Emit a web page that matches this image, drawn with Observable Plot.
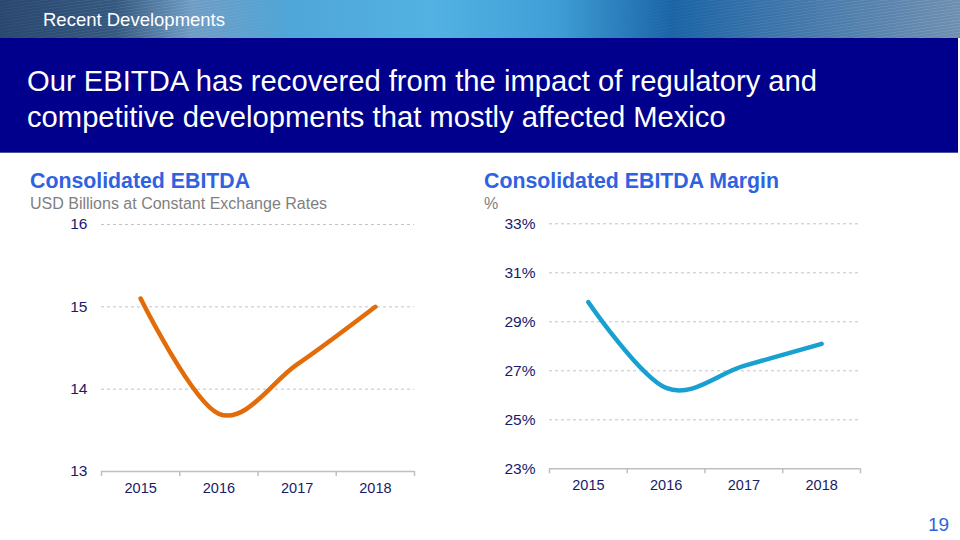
<!DOCTYPE html>
<html>
<head>
<meta charset="utf-8">
<script src="https://cdn.jsdelivr.net/npm/d3@7"></script>
<script src="https://cdn.jsdelivr.net/npm/@observablehq/plot@0.6"></script>
<style>
  html, body { margin: 0; padding: 0; }
  body { width: 960px; height: 540px; position: relative; overflow: hidden; background: #fff;
         font-family: "Liberation Sans", Arial, sans-serif; }
  .abs { position: absolute; white-space: nowrap; }
  #banner { left: 0; top: 0; width: 960px; height: 38px;
    background: linear-gradient(90deg, #2a4770 0%, #34587f 12%, #6f9cc4 20%, #4fa6d8 30%, #53b2e2 45%, #3f9ed6 58%, #1a64a6 70%, #3a73aa 80%, #6f8fb0 100%); }
  #streaks { left: 0; top: 0; width: 960px; height: 38px;
    background: repeating-linear-gradient(172deg, rgba(255,255,255,0.10) 0 1px, rgba(255,255,255,0) 1px 3px);
    -webkit-mask-image: linear-gradient(90deg, rgba(0,0,0,0.3) 0%, rgba(0,0,0,0.9) 18%, rgba(0,0,0,0.05) 30%, rgba(0,0,0,0) 60%, rgba(0,0,0,0.6) 80%, rgba(0,0,0,1) 100%);
    mask-image: linear-gradient(90deg, rgba(0,0,0,0.3) 0%, rgba(0,0,0,0.9) 18%, rgba(0,0,0,0.05) 30%, rgba(0,0,0,0) 60%, rgba(0,0,0,0.6) 80%, rgba(0,0,0,1) 100%); }
  #section { left: 43px; top: 10.6px; font-size: 18.5px; line-height: 18.5px; color: #fff; }
  #box { left: 0; top: 38px; width: 958px; height: 114px; background: #00008c; border-bottom: 1px solid #4a52a0; }
  #headline { left: 27px; top: 62.7px; font-size: 29.2px; line-height: 36px; color: #fff; }
  .ctitle { font-size: 21.3px; line-height: 21px; font-weight: bold; color: #2f62e0; top: 171px; }
  .csub { font-size: 16px; line-height: 16px; color: #808080; top: 195.5px; }
  #page { left: 928px; top: 515px; font-size: 19px; line-height: 19px; color: #2f62e0; }
  #leftChart { left: 0; top: 200px; }
  #rightChart { left: 460px; top: 200px; }
</style>
</head>
<body>
<div id="banner" class="abs"></div>
<div id="streaks" class="abs"></div>
<div id="section" class="abs">Recent Developments</div>
<div id="box" class="abs"></div>
<div id="headline" class="abs">Our EBITDA has recovered from the impact of regulatory and<br>competitive developments that mostly affected Mexico</div>
<div id="leftChart" class="abs"></div>
<div id="rightChart" class="abs"></div>
<div class="abs ctitle" style="left:30px">Consolidated EBITDA</div>
<div class="abs csub" style="left:30px">USD Billions at Constant Exchange Rates</div>
<div class="abs ctitle" style="left:484px">Consolidated EBITDA Margin</div>
<div class="abs csub" style="left:484px">%</div>
<div id="page" class="abs">19</div>
<script>
// ---- data ----
const years = [2015, 2016, 2017, 2018];
const ebitda = [15.1, 13.7, 14.3, 15.0];          // USD billions
const margin = [29.8, 26.3, 27.2, 28.1];          // %
const ebitdaTicks = [13, 14, 15, 16];
const marginTicks = [23, 25, 27, 29, 31, 33];

const ebitdaData = years.map((y, i) => ({year: y, value: ebitda[i]}));
const marginData = years.map((y, i) => ({year: y, value: margin[i]}));
const bounds = [years[0] - 0.5, ...years.map(y => y + 0.5)];

const FONT = '"Liberation Sans", Arial, sans-serif';
const TEXT = "#1a1a6a";

function chart({data, ticks, fmt, color, width, marginLeft, marginRight, marginTop, marginBottom}) {
  return Plot.plot({
    width, height: 300, marginLeft, marginRight, marginTop, marginBottom,
    x: {domain: [bounds[0], bounds[bounds.length - 1]], label: null},
    y: {domain: [ticks[0], ticks[ticks.length - 1]], label: null},
    style: {background: "transparent", fontFamily: FONT, fontSize: "15px", color: TEXT},
    marks: [
      Plot.ruleY(ticks.slice(1), {stroke: "#c4c4c4", strokeWidth: 1, strokeDasharray: "3,3"}),
      Plot.ruleY([ticks[0]], {stroke: "#bfbfbf", strokeWidth: 1.5}),
      Plot.axisX(bounds, {tickSize: 5, tickFormat: () => "", stroke: "#bfbfbf", strokeWidth: 1.5, label: null}),
      Plot.axisX(years, {tickSize: 0, tickPadding: 11, tickFormat: d => String(d), fontSize: 14.5, label: null}),
      Plot.axisY(ticks, {tickSize: 0, tickPadding: 14, tickFormat: fmt, fontSize: 15.5, label: null}),
      Plot.line(data, {x: "year", y: "value", curve: "cardinal", stroke: color, strokeWidth: 4.5})
    ]
  });
}

document.getElementById("leftChart").appendChild(chart({
  data: ebitdaData, ticks: ebitdaTicks, fmt: d => String(d), color: "#e36c0a",
  width: 460, marginLeft: 101, marginRight: 46, marginTop: 24, marginBottom: 29
}));
document.getElementById("rightChart").appendChild(chart({
  data: marginData, ticks: marginTicks, fmt: d => d + "%", color: "#18a0d0",
  width: 500, marginLeft: 89, marginRight: 100, marginTop: 23.3, marginBottom: 31.7
}));
</script>
</body>
</html>
